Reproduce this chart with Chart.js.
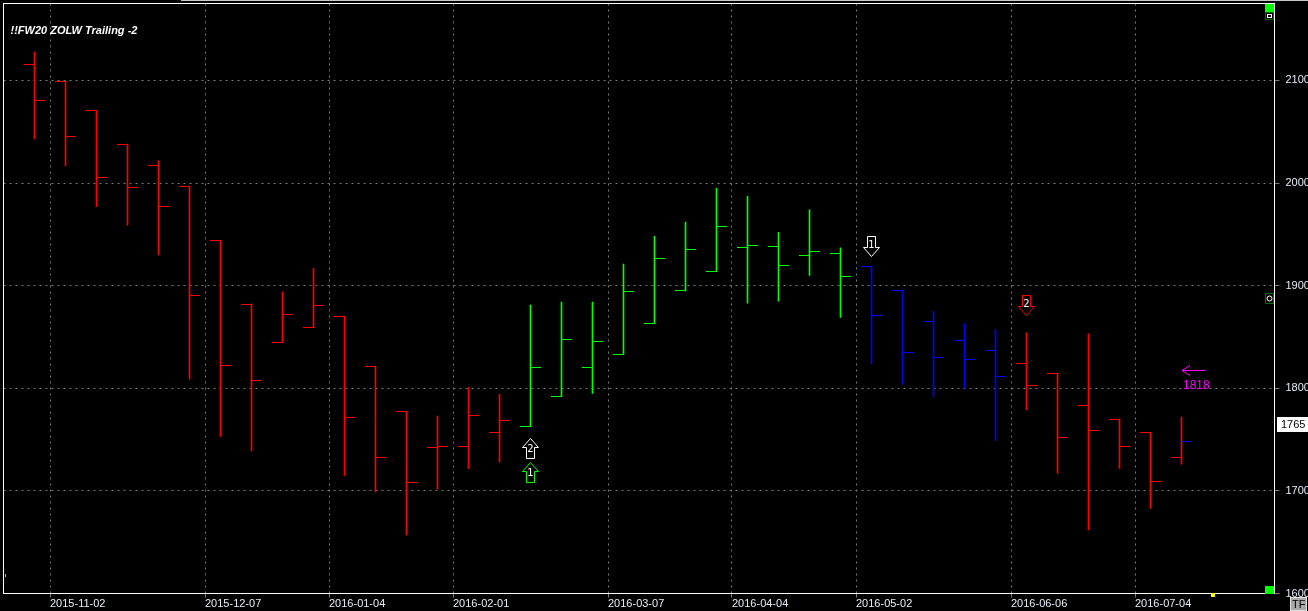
<!DOCTYPE html>
<html>
<head>
<meta charset="utf-8">
<script src="https://cdn.jsdelivr.net/npm/chart.js@4/dist/chart.umd.min.js"></script>
<style>
html, body { margin: 0; padding: 0; background: #000; overflow: hidden; }
</style>
</head>
<body>
<canvas id="chart" width="1308" height="611"></canvas>
<script>
// Weekly bars (week starting Monday), oldest first
const weeks = ['2015-10-26','2015-11-02','2015-11-09','2015-11-16','2015-11-23','2015-11-30',
    '2015-12-07','2015-12-14','2015-12-21','2015-12-28','2016-01-04','2016-01-11','2016-01-18',
    '2016-01-25','2016-02-01','2016-02-08','2016-02-15','2016-02-22','2016-02-29','2016-03-07',
    '2016-03-14','2016-03-21','2016-03-28','2016-04-04','2016-04-11','2016-04-18','2016-04-25',
    '2016-05-02','2016-05-09','2016-05-16','2016-05-23','2016-05-30','2016-06-06','2016-06-13',
    '2016-06-20','2016-06-27','2016-07-04','2016-07-11'];

const opens  = [2116,2099,2071,2038,2017,1997,1944,1882,1845,1859,1870,1821,1777,1742,1743,1757,
    1763,1792,1820,1833,1863,1895,1914,1937,1938,1929,1931,1919,1895,1865,1847,1837,1824,1814,1783,1770,1757,1733];
const highs  = [2128,2099,2071,2038,2022,1997,1944,1882,1894,1917,1870,1821,1777,1773,1801,1794,
    1881,1884,1884,1921,1948,1962,1995,1987,1952,1974,1937,1919,1895,1875,1863,1857,1854,1814,1853,1770,1757,1772];
const lows   = [2043,2017,1977,1959,1930,1809,1753,1739,1845,1859,1715,1699,1657,1702,1722,1728,
    1763,1792,1795,1833,1863,1895,1914,1883,1885,1910,1869,1824,1804,1792,1800,1749,1779,1717,1662,1722,1683,1726];
const closes = [2080,2045,2005,1996,1977,1890,1822,1808,1872,1881,1772,1733,1708,1743,1773,1769,
    1820,1848,1846,1894,1926,1935,1958,1939,1920,1933,1909,1871,1835,1830,1828,1811,1803,1752,1759,1743,1709,1748];
const trend = ['down','down','down','down','down','down','down','down','down','down','down','down','down','down','down','down',
    'up','up','up','up','up','up','up','up','up','up','up',
    'flat','flat','flat','flat','flat',
    'down','down','down','down','down','down'];
const lastCloseTrend = 'flat';

// Date labels on the time axis
const dateTicks = ['2015-11-02','2015-12-07','2016-01-04','2016-02-01','2016-03-07',
    '2016-04-04','2016-05-02','2016-06-06','2016-07-04'];
const priceTicks = [1600, 1700, 1800, 1900, 2000, 2100];

// Signals and markers
const signals = [
    { week: '2016-02-15', price: 1742, dir: 'up',   kind: 'white', label: '2' },
    { week: '2016-02-15', price: 1718, dir: 'up',   kind: 'up',    label: '1' },
    { week: '2016-05-02', price: 1939, dir: 'down', kind: 'white', label: '1' },
    { week: '2016-06-06', price: 1881, dir: 'down', kind: 'down',  label: '2' }
];
const targetWeek = '2016-07-11';
const targetPrice = 1818;
const lastPrice = 1765;
const chartTitle = '!!FW20 ZOLW Trailing -2';

const trendColors = { down: '#ff0000', up: '#00ff00', flat: '#0000ff', white: '#ffffff' };
const textColor = '#e6ecf6';
const gridColor = '#7a7a7a';

// small images used as point styles for the open (left) and close (right) ticks
function tickImage(color, side) {
    const c = document.createElement('canvas');
    c.width = 21;
    c.height = 1;
    const g = c.getContext('2d');
    g.fillStyle = color;
    if (side === 'left') g.fillRect(0, 0, 11, 1);
    else g.fillRect(10, 0, 11, 1);
    return c;
}
const openImgs = {}, closeImgs = {};
Object.keys(trendColors).forEach(k => {
    openImgs[k] = tickImage(trendColors[k], 'left');
    closeImgs[k] = tickImage(trendColors[k], 'right');
});

const lastIndex = weeks.length - 1;

// keep the 1px tick images crisp
const crispPlugin = {
    id: 'crisp',
    beforeDatasetsDraw(chart) {
        chart.ctx.imageSmoothingEnabled = false;
    }
};

// Border around plot + decorations
const framePlugin = {
    id: 'frame',
    afterDraw(chart) {
        const { ctx, chartArea: a } = chart;
        ctx.save();
        ctx.strokeStyle = '#ffffff';
        ctx.lineWidth = 1;
        ctx.strokeRect(a.left, a.top, a.right - a.left, a.bottom - a.top);

        ctx.fillStyle = '#c8c8c8';
        ctx.fillRect(181, 0, 1127, 1);

        // title
        ctx.fillStyle = '#ffffff';
        ctx.font = 'italic bold 11px "Liberation Sans", Arial, sans-serif';
        ctx.textBaseline = 'middle';
        ctx.textAlign = 'left';
        ctx.fillText(chartTitle, a.left + 7, a.top + 27);

        // corner widgets
        const wx = Math.round(a.right) - 10;
        const top = Math.round(a.top);
        const bottom = Math.round(a.bottom);
        ctx.fillStyle = '#00ff00';
        ctx.fillRect(wx, top, 9, 8);
        ctx.fillRect(wx, bottom - 8, 9, 8);
        ctx.fillStyle = '#007000';
        ctx.fillRect(wx, top + 8, 9, 8);
        ctx.fillStyle = '#000';
        ctx.fillRect(wx + 1, top + 9, 7, 6);
        ctx.strokeStyle = '#fff';
        ctx.strokeRect(wx + 2.5, top + 10.5, 4, 3);

        ctx.fillStyle = '#007000';
        ctx.fillRect(wx, 293, 9, 11);
        ctx.fillStyle = '#000';
        ctx.fillRect(wx + 1, 294, 7, 9);
        ctx.beginPath();
        ctx.arc(wx + 4.5, 298.5, 2.5, 0, Math.PI * 2);
        ctx.strokeStyle = '#fff';
        ctx.stroke();

        ctx.fillStyle = '#ffff00';
        ctx.fillRect(1211, bottom - 1, 4, 4);
        ctx.fillStyle = '#d8b060';
        ctx.fillRect(Math.round(a.left) + 1, 574, 1, 3);

        // TF box
        ctx.fillStyle = '#a8a8a8';
        ctx.fillRect(1290, 597, 17, 14);
        ctx.strokeStyle = '#e0e0e0';
        ctx.strokeRect(1290.5, 597.5, 16, 13);
        ctx.fillStyle = '#000';
        ctx.font = '11px "Liberation Sans", Arial, sans-serif';
        ctx.fillText('TF', 1292, 605);

        // last price box
        const y = chart.scales.y.getPixelForValue(lastPrice);
        ctx.fillStyle = '#ffffff';
        ctx.fillRect(Math.round(a.right) + 2, Math.round(y) - 7, 32, 15);
        ctx.fillStyle = '#000';
        ctx.font = '11px "Liberation Sans", Arial, sans-serif';
        ctx.fillText(String(lastPrice), Math.round(a.right) + 6, Math.round(y) + 1);
        ctx.restore();
    }
};

function drawArrow(ctx, x, y, dir, color, label) {
    const s = dir === 'up' ? 1 : -1;
    const top = y - 10 * s;
    ctx.beginPath();
    ctx.moveTo(x, top);
    ctx.lineTo(x + 8, top + 9 * s);
    ctx.lineTo(x + 4, top + 9 * s);
    ctx.lineTo(x + 4, top + 20 * s);
    ctx.lineTo(x - 4, top + 20 * s);
    ctx.lineTo(x - 4, top + 9 * s);
    ctx.lineTo(x - 8, top + 9 * s);
    ctx.closePath();
    ctx.fillStyle = '#000';
    ctx.fill();
    ctx.strokeStyle = color;
    ctx.lineWidth = 1;
    ctx.stroke();
    ctx.fillStyle = '#ffffff';
    ctx.font = '10px "DejaVu Sans", sans-serif';
    ctx.textAlign = 'center';
    ctx.textBaseline = 'middle';
    ctx.fillText(label, x, y + 1 * s);
}

const signalPlugin = {
    id: 'signals',
    afterDatasetsDraw(chart) {
        const { ctx, scales: { x, y } } = chart;
        ctx.save();
        signals.forEach(sg => {
            const px = Math.floor(x.getPixelForValue(weeks.indexOf(sg.week))) + 0.5;
            const py = Math.round(y.getPixelForValue(sg.price)) + 0.5;
            drawArrow(ctx, px, py, sg.dir, trendColors[sg.kind], sg.label);
        });

        // target arrow
        const tx = Math.floor(x.getPixelForValue(weeks.indexOf(targetWeek)));
        const ty = Math.round(y.getPixelForValue(targetPrice)) + 0.5;
        ctx.strokeStyle = '#ff00ff';
        ctx.beginPath();
        ctx.moveTo(tx + 1, ty);
        ctx.lineTo(tx + 25, ty);
        ctx.moveTo(tx + 9, ty - 5);
        ctx.lineTo(tx + 1, ty);
        ctx.lineTo(tx + 9, ty + 5);
        ctx.stroke();
        ctx.fillStyle = '#ff00ff';
        ctx.font = '12px "Liberation Sans", Arial, sans-serif';
        ctx.textAlign = 'left';
        ctx.textBaseline = 'middle';
        ctx.fillText(String(targetPrice), tx + 2, ty + 15);
        ctx.restore();
    }
};

const ctx = document.getElementById('chart').getContext('2d');
const chart = new Chart(ctx, {
    type: 'bar',
    data: {
        datasets: [
            {
                type: 'bar',
                data: weeks.map((w, i) => ({ x: i, y: [lows[i], highs[i]] })),
                backgroundColor: weeks.map((w, i) => trendColors[trend[i]]),
                borderWidth: 0,
                barThickness: 1,
                grouped: false,
                order: 2
            },
            {
                type: 'scatter',
                data: weeks.map((w, i) => ({ x: i, y: opens[i] })),
                pointStyle: c => openImgs[trend[c.dataIndex]],
                pointRadius: 5,
                order: 1
            },
            {
                type: 'scatter',
                data: weeks.map((w, i) => ({ x: i, y: closes[i] })),
                pointStyle: c => closeImgs[c.dataIndex === lastIndex ? lastCloseTrend : trend[c.dataIndex]],
                pointRadius: 5,
                order: 1
            }
        ]
    },
    options: {
        responsive: false,
        devicePixelRatio: 1,
        animation: false,
        events: [],
        layout: { autoPadding: false, padding: { left: 3.5, top: 3.5, right: 0, bottom: 0 } },
        plugins: {
            legend: { display: false },
            tooltip: { enabled: false }
        },
        scales: {
            x: {
                type: 'linear',
                min: -1,
                max: 40,
                offset: false,
                afterBuildTicks: scale => {
                    scale.ticks = dateTicks.map(d => ({ value: weeks.indexOf(d) - 0.5 }));
                },
                afterFit: scale => {
                    scale.height = 17.5;
                    scale.paddingLeft = 0;
                    scale.paddingRight = 0;
                },
                ticks: {
                    autoSkip: false,
                    maxRotation: 0,
                    align: 'start',
                    padding: 0,
                    color: textColor,
                    font: { family: '"Liberation Sans", Arial, sans-serif', size: 11 },
                    callback: v => weeks[Math.round(v + 0.5)]
                },
                grid: { color: gridColor, offset: false, tickLength: 4, tickColor: gridColor },
                border: { color: '#ffffff', width: 1, dash: [2, 4] }
            },
            y: {
                type: 'linear',
                position: 'right',
                min: 1600,
                max: 2175,
                afterBuildTicks: scale => {
                    scale.ticks = priceTicks.map(v => ({ value: v }));
                },
                afterFit: scale => {
                    scale.width = 33.5;
                    scale.paddingTop = 0;
                    scale.paddingBottom = 0;
                },
                ticks: {
                    padding: 6,
                    color: textColor,
                    font: { family: '"Liberation Sans", Arial, sans-serif', size: 11 },
                    callback: v => String(v)
                },
                grid: { color: gridColor, tickLength: 5, tickColor: gridColor },
                border: { color: '#ffffff', width: 1, dash: [2, 4] }
            }
        }
    },
    plugins: [crispPlugin, signalPlugin, framePlugin]
});
</script>
</body>
</html>
